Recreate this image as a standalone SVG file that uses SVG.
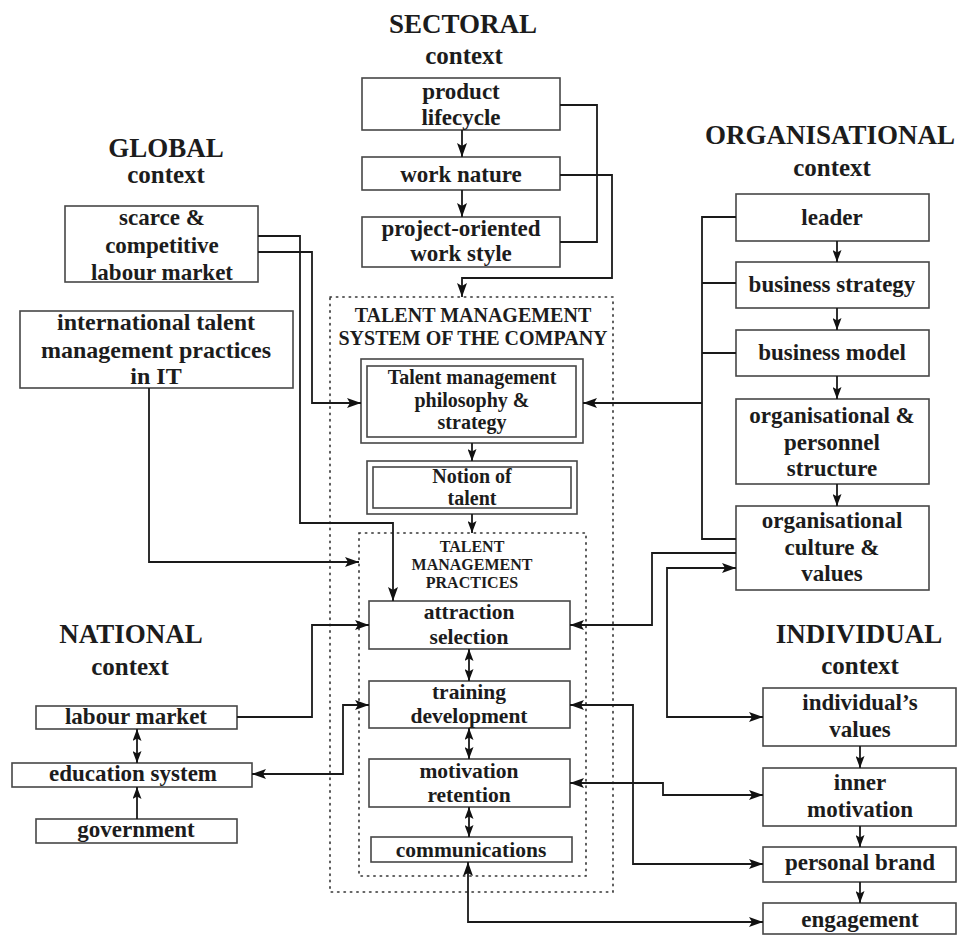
<svg xmlns="http://www.w3.org/2000/svg" width="963" height="936" viewBox="0 0 963 936">
  <style>
    .box { fill: #ffffff; stroke: #474747; stroke-width: 1.6; }
    .dot { fill: none; stroke: #333333; stroke-width: 1.6; stroke-dasharray: 1.4 5; stroke-linecap: round; }
    .ln { fill: none; stroke: #1a1a1a; stroke-width: 1.8; }
    .t { font-family: "Liberation Serif", "Times New Roman", serif; font-weight: bold; font-size: 23px; fill: #1c1c1c; text-anchor: middle; }
    .t20 { font-size: 20px; }
    .t21 { font-size: 21.5px; }
    .t24 { font-size: 24px; }
    .h { font-family: "Liberation Serif", "Times New Roman", serif; font-weight: bold; font-size: 27px; fill: #1c1c1c; text-anchor: middle; }
    .hc { font-size: 25px; }
    .tms { font-family: "Liberation Serif", "Times New Roman", serif; font-weight: bold; font-size: 20px; fill: #1c1c1c; text-anchor: middle; }
    .tmp { font-size: 16px; }
  </style>
  <defs>
    <marker id="ah" viewBox="0 0 14 10" refX="14" refY="5" markerWidth="14" markerHeight="10" markerUnits="userSpaceOnUse" orient="auto-start-reverse">
      <path d="M0,0 L14,5 L0,10 L3,5 z" fill="#111111"/>
    </marker>
    <marker id="ahs" viewBox="0 0 12 9" refX="12" refY="4.5" markerWidth="12" markerHeight="9" markerUnits="userSpaceOnUse" orient="auto-start-reverse">
      <path d="M0,0 L12,4.5 L0,9 L2.5,4.5 z" fill="#111111"/>
    </marker>
  </defs>

  <rect width="963" height="936" fill="#ffffff"/>

  <!-- context headings -->
  <g id="headings">
    <text class="h" x="463" y="33">SECTORAL</text>
    <text class="h hc" x="464" y="64">context</text>
    <text class="h" x="166" y="157">GLOBAL</text>
    <text class="h hc" x="166" y="183">context</text>
    <text class="h" x="830" y="144">ORGANISATIONAL</text>
    <text class="h hc" x="832" y="176">context</text>
    <text class="h" x="131" y="643">NATIONAL</text>
    <text class="h hc" x="130" y="675">context</text>
    <text class="h" x="859" y="643">INDIVIDUAL</text>
    <text class="h hc" x="860" y="674">context</text>
  </g>

  <!-- talent management system frames -->
  <g id="tm-system">
    <rect class="dot" x="330" y="297" width="283" height="595"/>
    <text class="tms" x="473" y="322">TALENT MANAGEMENT</text>
    <text class="tms" x="473" y="345">SYSTEM OF THE COMPANY</text>
  </g>
  <g id="tm-practices">
    <rect class="dot" x="359" y="533" width="227" height="343"/>
    <text class="tms tmp" x="472" y="552">TALENT</text>
    <text class="tms tmp" x="472" y="570">MANAGEMENT</text>
    <text class="tms tmp" x="472" y="588">PRACTICES</text>
  </g>

  <!-- sectoral nodes -->
  <g id="product-lifecycle">
    <rect class="box" x="362" y="78" width="198" height="52"/>
    <text class="t" x="461" y="99">product</text>
    <text class="t" x="461" y="125">lifecycle</text>
  </g>
  <g id="work-nature">
    <rect class="box" x="362" y="157" width="198" height="33"/>
    <text class="t" x="461" y="182">work nature</text>
  </g>
  <g id="project-oriented">
    <rect class="box" x="362" y="217" width="198" height="50"/>
    <text class="t" x="461" y="236">project-oriented</text>
    <text class="t" x="461" y="261">work style</text>
  </g>

  <!-- global nodes -->
  <g id="scarce-market">
    <rect class="box" x="65" y="206" width="193" height="76"/>
    <text class="t" x="162" y="225">scarce &amp;</text>
    <text class="t" x="162" y="253">competitive</text>
    <text class="t" x="162" y="280">labour market</text>
  </g>
  <g id="international-practices">
    <rect class="box" x="20" y="311" width="273" height="77"/>
    <text class="t t24" x="156" y="330">international talent</text>
    <text class="t t24" x="156" y="358">management practices</text>
    <text class="t t24" x="156" y="384">in IT</text>
  </g>

  <!-- company core nodes -->
  <g id="philosophy">
    <rect class="box" x="361" y="359" width="222" height="84"/>
    <rect class="box" x="367" y="366" width="209" height="71"/>
    <text class="t t20" x="472" y="384">Talent management</text>
    <text class="t t20" x="472" y="407">philosophy &amp;</text>
    <text class="t t20" x="472" y="429">strategy</text>
  </g>
  <g id="notion-of-talent">
    <rect class="box" x="367" y="461" width="210" height="53"/>
    <rect class="box" x="373" y="467" width="198" height="41"/>
    <text class="t t20" x="472" y="483">Notion of</text>
    <text class="t t20" x="472" y="505">talent</text>
  </g>
  <g id="attraction">
    <rect class="box" x="369" y="601" width="201" height="48"/>
    <text class="t t21" x="469" y="619">attraction</text>
    <text class="t t21" x="469" y="644">selection</text>
  </g>
  <g id="training">
    <rect class="box" x="369" y="681" width="201" height="47"/>
    <text class="t t21" x="469" y="699">training</text>
    <text class="t t21" x="469" y="723">development</text>
  </g>
  <g id="motivation">
    <rect class="box" x="369" y="759" width="201" height="48"/>
    <text class="t t21" x="469" y="778">motivation</text>
    <text class="t t21" x="469" y="802">retention</text>
  </g>
  <g id="communications">
    <rect class="box" x="371" y="837" width="201" height="25"/>
    <text class="t t21" x="471" y="857">communications</text>
  </g>

  <!-- organisational nodes -->
  <g id="leader">
    <rect class="box" x="736" y="194" width="193" height="47"/>
    <text class="t" x="832" y="225">leader</text>
  </g>
  <g id="business-strategy">
    <rect class="box" x="736" y="262" width="193" height="46"/>
    <text class="t" x="832" y="292">business strategy</text>
  </g>
  <g id="business-model">
    <rect class="box" x="736" y="330" width="193" height="46"/>
    <text class="t" x="832" y="360">business model</text>
  </g>
  <g id="org-structure">
    <rect class="box" x="736" y="399" width="193" height="85"/>
    <text class="t" x="832" y="423">organisational &amp;</text>
    <text class="t" x="832" y="450">personnel</text>
    <text class="t" x="832" y="476">structure</text>
  </g>
  <g id="org-culture">
    <rect class="box" x="736" y="506" width="193" height="84"/>
    <text class="t" x="832" y="528">organisational</text>
    <text class="t" x="832" y="555">culture &amp;</text>
    <text class="t" x="832" y="581">values</text>
  </g>

  <!-- national nodes -->
  <g id="labour-market">
    <rect class="box" x="36" y="706" width="201" height="23"/>
    <text class="t" x="136" y="724">labour market</text>
  </g>
  <g id="education-system">
    <rect class="box" x="12" y="763" width="240" height="24"/>
    <text class="t" x="133" y="781">education system</text>
  </g>
  <g id="government">
    <rect class="box" x="36" y="819" width="201" height="24"/>
    <text class="t" x="136" y="837">government</text>
  </g>

  <!-- individual nodes -->
  <g id="individual-values">
    <rect class="box" x="763" y="688" width="193" height="58"/>
    <text class="t" x="860" y="710">individual’s</text>
    <text class="t" x="860" y="737">values</text>
  </g>
  <g id="inner-motivation">
    <rect class="box" x="763" y="768" width="193" height="58"/>
    <text class="t" x="860" y="790">inner</text>
    <text class="t" x="860" y="817">motivation</text>
  </g>
  <g id="personal-brand">
    <rect class="box" x="763" y="847" width="193" height="35"/>
    <text class="t" x="860" y="870">personal brand</text>
  </g>
  <g id="engagement">
    <rect class="box" x="763" y="903" width="193" height="31"/>
    <text class="t" x="860" y="927">engagement</text>
  </g>

  <!-- connectors -->
  <g id="connectors">
    <!-- sectoral chain -->
    <path class="ln" d="M462,130 V157" marker-end="url(#ah)"/>
    <path class="ln" d="M462,190 V217" marker-end="url(#ah)"/>
    <path class="ln" d="M560,105 H597 V242 H560"/>
    <path class="ln" d="M560,175 H612 V278 H462 V297" marker-end="url(#ah)"/>

    <!-- global influences -->
    <path class="ln" d="M258,252 H312 V403 H361" marker-end="url(#ah)"/>
    <path class="ln" d="M258,236 H300 V523 H393 V601" marker-end="url(#ah)"/>
    <path class="ln" d="M149,388 V562 H359" marker-end="url(#ah)"/>

    <!-- core chain -->
    <path class="ln" d="M472,443 V461" marker-end="url(#ahs)"/>
    <path class="ln" d="M472,514 V533" marker-end="url(#ahs)"/>
    <path class="ln" d="M469,649 V681" marker-start="url(#ahs)" marker-end="url(#ahs)"/>
    <path class="ln" d="M469,728 V759" marker-start="url(#ahs)" marker-end="url(#ahs)"/>
    <path class="ln" d="M469,807 V837" marker-start="url(#ahs)" marker-end="url(#ahs)"/>

    <!-- organisational chain and bracket -->
    <path class="ln" d="M837,241 V262" marker-end="url(#ahs)"/>
    <path class="ln" d="M837,308 V330" marker-end="url(#ahs)"/>
    <path class="ln" d="M837,376 V399" marker-end="url(#ahs)"/>
    <path class="ln" d="M837,484 V506" marker-end="url(#ahs)"/>
    <path class="ln" d="M736,217 H702 V539 H736 M702,283 H736 M702,353 H736"/>
    <path class="ln" d="M702,403 H583" marker-end="url(#ah)"/>
    <path class="ln" d="M736,553 H652 V625 H570" marker-end="url(#ah)"/>
    <path class="ln" d="M736,568 H667 V717 H763" marker-start="url(#ah)" marker-end="url(#ah)"/>

    <!-- individual chain and links -->
    <path class="ln" d="M860,746 V768" marker-end="url(#ahs)"/>
    <path class="ln" d="M860,826 V847" marker-end="url(#ahs)"/>
    <path class="ln" d="M860,882 V903" marker-end="url(#ahs)"/>
    <path class="ln" d="M570,705 H633 V864 H763" marker-start="url(#ah)" marker-end="url(#ah)"/>
    <path class="ln" d="M570,783 H663 V795 H763" marker-start="url(#ah)" marker-end="url(#ah)"/>
    <path class="ln" d="M468,862 V922 H763" marker-start="url(#ah)" marker-end="url(#ah)"/>

    <!-- national links -->
    <path class="ln" d="M237,717 H312 V625 H369" marker-end="url(#ah)"/>
    <path class="ln" d="M252,774 H343 V705 H369" marker-start="url(#ah)" marker-end="url(#ah)"/>
    <path class="ln" d="M137,729 V763" marker-start="url(#ahs)" marker-end="url(#ahs)"/>
    <path class="ln" d="M137,819 V787" marker-end="url(#ahs)"/>
  </g>
</svg>
